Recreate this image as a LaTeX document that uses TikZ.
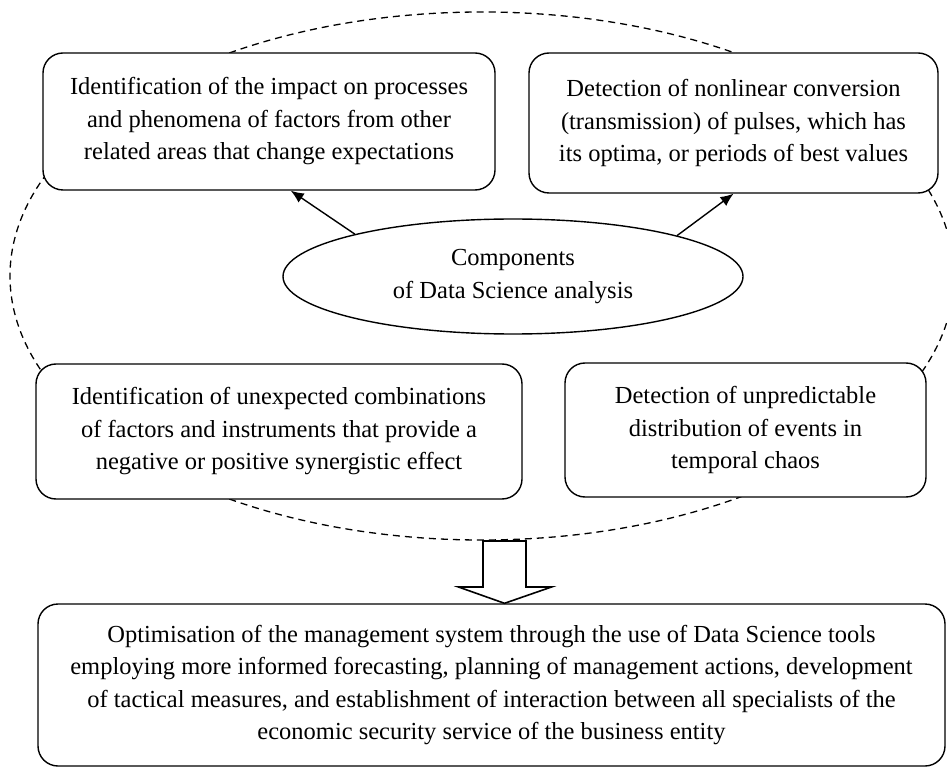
\documentclass[tikz,border=0pt]{standalone}
\usepackage{fontspec}
\setmainfont{Liberation Serif}
\usetikzlibrary{shapes.geometric,arrows.meta,calc}

\tikzset{
  card/.style={draw, line width=1.4pt, rounded corners=20pt, fill=white,
    align=center, inner sep=0pt, font=\fontsize{24.5}{32.5}\selectfont},
  hub/.style={draw, ellipse, line width=1.4pt, fill=white, inner sep=0pt,
    align=center, font=\fontsize{24.5}{33}\selectfont},
  link/.style={line width=1.4pt, -{Latex[length=13pt,width=11pt]}},
  ring/.style={line width=1.3pt, dash pattern=on 7pt off 5pt},
  bigarrow/.style={line width=1.6pt, fill=white, line join=miter}
}

\begin{document}
\begin{tikzpicture}[x=1pt, y=-1pt]
  \useasboundingbox (0,0) rectangle (947,775);

  % dashed outline grouping the four components
  \draw[ring] (482,276) ellipse [x radius=472pt, y radius=264pt];

  % four component boxes
  \node[card, minimum width=452pt, minimum height=137pt] (tl) at (269,121.5)
    {Identification of the impact on processes\\
     and phenomena of factors from other\\
     related areas that change expectations};
  \node[card, minimum width=409pt, minimum height=140pt] (tr) at (733.5,123)
    {Detection of nonlinear conversion\\
     (transmission) of pulses, which has\\
     its optima, or periods of best values};
  \node[card, minimum width=486pt, minimum height=135pt] (bl) at (279,431.5)
    {Identification of unexpected combinations\\
     of factors and instruments that provide a\\
     negative or positive synergistic effect};
  \node[card, minimum width=361pt, minimum height=134pt] (br) at (745.5,430)
    {Detection of unpredictable\\
     distribution of events in\\
     temporal chaos};

  % central ellipse
  \node[hub, minimum width=460pt, minimum height=115pt] (hub) at (513,276.5)
    {Components\\ of Data Science analysis};

  % arrows from the centre to the upper boxes
  \draw[link] (hub.165) -- ($(tl.south west)!0.548!(tl.south east)$);
  \draw[link] (hub.14) -- (tr.south);

  % result box
  \node[card, minimum width=907pt, minimum height=162pt] (res) at (491.5,685)
    {Optimisation of the management system through the use of Data Science tools\\
     employing more informed forecasting, planning of management actions, development\\
     of tactical measures, and establishment of interaction between all specialists of the\\
     economic security service of the business entity};

  % hollow block arrow down to the result
  \coordinate (arrtop) at (504.5,541);
  \draw[bigarrow] ($(arrtop)+(-21.5,0)$) -- ($(arrtop)+(-21.5,46)$)
    -- ($(arrtop)+(-46,46)$) -- (res.north -| arrtop)
    -- ($(arrtop)+(47,46)$) -- ($(arrtop)+(21.5,46)$)
    -- ($(arrtop)+(21.5,0)$) -- cycle;
\end{tikzpicture}
\end{document}
